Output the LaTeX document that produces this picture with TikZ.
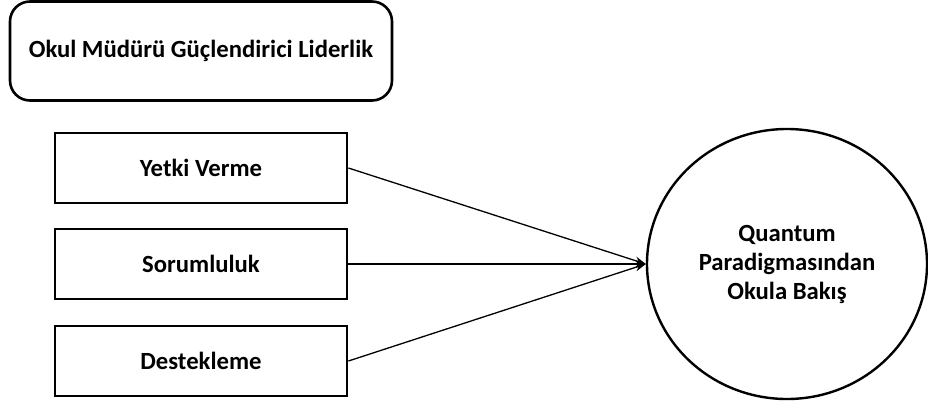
\documentclass[tikz,border=0pt]{standalone}
\usepackage{fontspec}
\setmainfont{Carlito}
\usetikzlibrary{shapes.geometric,arrows.meta}
\begin{document}
\begin{tikzpicture}[x=1pt,y=-1pt,
  lbl/.style={font=\fontsize{24.7}{29}\selectfont\bfseries, text=black},
  titlebox/.style={draw, line width=2.6pt, rounded corners=20pt, minimum width=382pt, minimum height=99pt, lbl},
  itembox/.style={draw, line width=2.8pt, minimum width=292pt, minimum height=70pt, lbl},
  target/.style={draw, ellipse, line width=2.4pt, minimum width=280pt, minimum height=270pt, align=center, lbl},
  conn/.style={line width=1.3pt, -{Stealth[length=11pt,width=8pt]}}
]
\useasboundingbox (0,0) rectangle (928,410);
\node[titlebox] (t) at (201,51) {Okul Müdürü Güçlendirici Liderlik};
\node[itembox] (a) at (201,168) {Yetki Verme};
\node[itembox] (b) at (201,264) {Sorumluluk};
\node[itembox] (c) at (201,361) {Destekleme};
\node[target] (q) at (787,264) {Quantum\\Paradigmasından\\Okula Bakış};
\draw[conn] (a.east) -- (q.west);
\draw[conn] (b.east) -- (q.west);
\draw[conn] (c.east) -- (q.west);
\end{tikzpicture}
\end{document}
